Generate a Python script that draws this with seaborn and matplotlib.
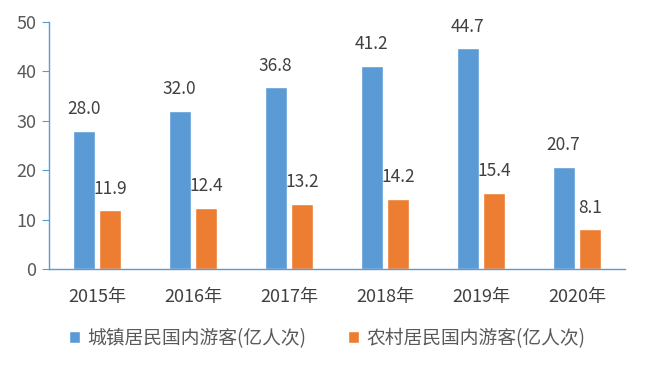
import matplotlib
matplotlib.use("Agg")
import matplotlib.pyplot as plt
import seaborn as sns
import pandas as pd

years = ["2015年", "2016年", "2017年", "2018年", "2019年", "2020年"]
urban = [28.0, 32.0, 36.8, 41.2, 44.7, 20.7]
rural = [11.9, 12.4, 13.2, 14.2, 15.4, 8.1]
series = ["城镇居民国内游客(亿人次)", "农村居民国内游客(亿人次)"]
colors = ["#5B9BD5", "#ED7D31"]

df = pd.DataFrame({
    "year": years * 2,
    "value": urban + rural,
    "series": [series[0]] * len(years) + [series[1]] * len(years),
})

sns.set_style("white")
plt.rcParams["font.family"] = ["Noto Sans CJK SC", "DejaVu Sans"]

fig = plt.figure(figsize=(6.45, 3.68), dpi=100)
ax = fig.add_axes([0.076, 0.269, 0.893, 0.671])

sns.barplot(data=df, x="year", y="value", hue="series", palette=colors,
            width=0.56, gap=0.18, ax=ax, legend=True, saturation=1)

for c in ax.containers:
    ax.bar_label(c, fmt="%.1f", padding=9, fontsize=12.5, color="#404040")

ax.set_ylim(0, 50)
ax.set_yticks(range(0, 51, 10))
ax.set_xlim(-0.5, 5.5)
ax.set_xlabel("")
ax.set_ylabel("")

axis_blue = "#5B9BD5"
for s in ["top", "right"]:
    ax.spines[s].set_visible(False)
for s in ["left", "bottom"]:
    ax.spines[s].set_color(axis_blue)
    ax.spines[s].set_linewidth(1.0)

ax.tick_params(axis="y", left=True, length=5, color=axis_blue, labelsize=13,
               labelcolor="#595959", pad=4)
ax.tick_params(axis="x", bottom=False, labelsize=13, labelcolor="#404040", pad=10)

ax.legend(loc="center", bbox_to_anchor=(0.483, -0.28), ncol=2, frameon=False,
          fontsize=13.5, handlelength=0.6, handleheight=0.6, columnspacing=2.2,
          handletextpad=0.4, labelcolor="#595959")

fig.savefig("out.png", dpi=100)
